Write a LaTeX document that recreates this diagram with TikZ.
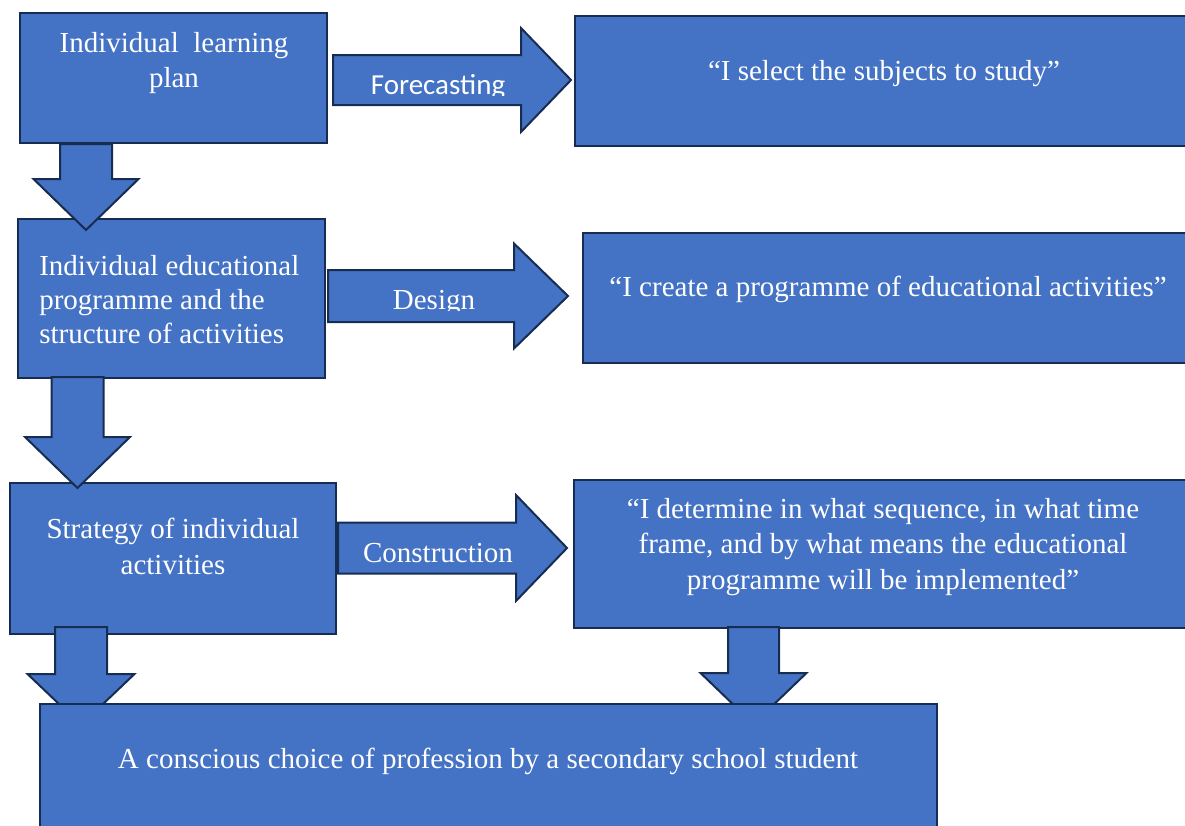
\documentclass[tikz,border=0pt]{standalone}
\usepackage{fontspec}
\setmainfont{Liberation Serif}
\newfontfamily\calibrifont{Carlito}
\usetikzlibrary{positioning,calc}
\definecolor{boxblue}{HTML}{4472C4}
\definecolor{boxline}{HTML}{172C51}

\tikzset{
	box/.style = {draw=boxline, fill=boxblue, line width=1.5pt, inner sep=0pt},
	txt/.style = {text=white, inner sep=0pt, align=center,
		font=\fontsize{21.75}{26.5}\selectfont},
	blockarrow/.style = {draw=boxline, fill=boxblue, line width=1.5pt, line join=miter}
}
% tail, angle, length, half shaft, half head, head length
\newcommand{\blockarr}[6]{%
	\draw[blockarrow, shift={(#1)}, rotate=#2]
		(0,-#4) -- ({#3-#6},-#4) -- ({#3-#6},-#5) -- (#3,0)
		-- ({#3-#6},#5) -- ({#3-#6},#4) -- (0,#4) -- cycle;}

\begin{document}
\begin{tikzpicture}[x=0.75pt, y=-0.75pt]
		\useasboundingbox (0,0) rectangle (1185,825);
		\clip (0,0) rectangle (1185,825);
		% boxes
		\node[box, minimum width=230.25pt, minimum height=97.5pt]  (plan)     at (173.5,78)  {};
		\node[box, minimum width=465pt,    minimum height=97.5pt]  (select)   at (885,81)    {};
		\node[box, minimum width=230.25pt, minimum height=119.25pt](program)  at (171.5,298.5) {};
		\node[box, minimum width=459pt,    minimum height=97.5pt]  (create)   at (889,298)   {};
		\node[box, minimum width=244.5pt,  minimum height=113.25pt](strategy) at (173,558.5) {};
		\node[box, minimum width=465.75pt, minimum height=111pt]   (sequence) at (884.5,554) {};
		% arrows
		\coordinate (fc) at ($(plan.east)+(5,2)$);
		\coordinate (dg) at ($(program.east)+(2,-2.5)$);
		\coordinate (cs) at ($(strategy.east)+(1,-10.5)$);
		\coordinate (pc) at ($(plan.south)+(-87.5,0)$);
		\coordinate (ps) at ($(program.south)+(-94,-2)$);
		\coordinate (sc) at ($(strategy.south)+(-92,-8)$);
		\coordinate (qc) at ($(sequence.south)+(-131,-2)$);
		\blockarr{fc}{0}{238}{25}{52}{50}
		\blockarr{dg}{0}{240}{26}{52.5}{54}
		\blockarr{cs}{0}{229}{25.5}{53}{51}
		\blockarr{pc}{-90}{86}{26}{52.5}{51}
		\blockarr{ps}{-90}{111}{26}{52.5}{51}
		\blockarr{sc}{-90}{98}{26}{53.5}{51}
		\blockarr{qc}{-90}{97}{25.5}{53}{51}
		\node[box, minimum width=672.75pt, minimum height=105.75pt](choice) at (488.5,774.5) {};
		% texts
		\node[txt, anchor=north] (t1) at (174,32) {Individual~~learning\\plan};
		\node[txt, anchor=base] (t2) at (884,80) {“I select the subjects to study”};
		\node[txt, anchor=north west, align=left, font=\fontsize{21.75}{25.5}\selectfont]
			(t3) at (39,255) {Individual educational\\programme and the\\structure of activities};
		\node[txt, anchor=base] (t4) at (888,296) {“I create a programme of educational activities”};
		\node[txt, anchor=north] (t5) at (173,518) {Strategy of individual\\activities};
		\node[txt, anchor=north] (t6) at (883,498)
			{“I determine in what sequence, in what time\\frame, and by what means the educational\\programme will be implemented”};
		\node[txt, anchor=base] (t7) at (488,768) {A conscious choice of profession by a secondary school student};
		\node[txt, anchor=base] (t8) at (438,562) {Construction};
		\begin{scope}
			\clip (332,50) rectangle (520,95);
			\node[txt, anchor=base, font=\calibrifont\fontsize{21.75}{26.5}\selectfont] (t9) at (438,94) {Forecasting};
		\end{scope}
		\begin{scope}
			\clip (327,265) rectangle (513,310);
			\node[txt, anchor=base] (t10) at (434,309) {Design};
		\end{scope}
	\end{tikzpicture}
\end{document}
